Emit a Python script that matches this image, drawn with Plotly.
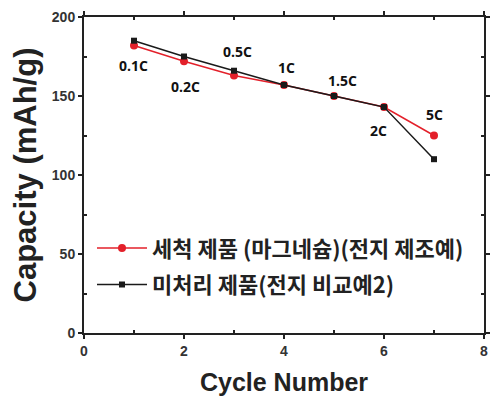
import plotly.graph_objects as go

cycles = [1, 2, 3, 4, 5, 6, 7]
washed = [182, 172, 163, 157, 150, 143, 125]
untreated = [185, 175, 166, 157, 150, 143, 110]
rate_labels = ["0.1C", "0.2C", "0.5C", "1C", "1.5C", "2C", "5C"]
label_x = [0.98, 2.02, 3.07, 4.05, 5.17, 5.89, 7.0]
label_y = [169, 156, 178, 168, 160, 128, 138]

fig = go.Figure()
fig.add_trace(go.Scatter(
    x=cycles, y=washed, mode="lines+markers",
    name="세척 제품 (마그네슘)(전지 제조예)", legendgroup="a",
    line=dict(color="#e3202a", width=1.5),
    marker=dict(symbol="circle", size=8, color="#e3202a"),
))
fig.add_trace(go.Scatter(
    x=cycles, y=untreated, mode="lines+markers",
    name="미처리 제품(전지 비교예2)", legendgroup="b",
    line=dict(color="#1a1a1a", width=1.5),
    marker=dict(symbol="square", size=6, color="#1a1a1a"),
))

for t, xx, yy in zip(rate_labels, label_x, label_y):
    fig.add_annotation(x=xx, y=yy, text="<b>" + t + "</b>", showarrow=False,
                       font=dict(family="Open Sans", size=14, color="#111"),
                       xanchor="center", yanchor="middle")

axis_common = dict(
    showline=True, linecolor="#222", linewidth=2, mirror="ticks",
    ticks="outside", ticklen=4, tickwidth=1.5, tickcolor="#222",
    showgrid=False, zeroline=False, automargin=False,
    tickfont=dict(family="Liberation Sans", size=14, color="#333", weight="bold"),
)
fig.update_xaxes(range=[0, 8], tickvals=[0, 2, 4, 6, 8],
                 minor=dict(tickvals=[1, 3, 5, 7], ticks="inside", ticklen=3, tickcolor="#222"),
                 title=dict(text="<b>Cycle Number</b>", standoff=16,
                            font=dict(family="Liberation Sans", size=25, color="#222")),
                 **axis_common)
fig.update_yaxes(range=[0, 200], tickvals=[0, 50, 100, 150, 200],
                 minor=dict(tickvals=[25, 75, 125, 175], ticks="inside", ticklen=3, tickcolor="#222"),
                 title=dict(text="<b>Capacity (mAh/g)</b>", standoff=13,
                            font=dict(family="Liberation Sans", size=31, color="#222")),
                 **axis_common)

fig.update_layout(
    width=490, height=391,
    margin=dict(l=76, r=14, t=9, b=66),
    plot_bgcolor="white", paper_bgcolor="white",
    legend=dict(x=0.02, y=0.335, xanchor="left", yanchor="top",
                bgcolor="rgba(0,0,0,0)", tracegroupgap=5,
                font=dict(family="Noto Sans CJK KR", size=22, color="#222", weight=600),
                itemwidth=50),
    showlegend=True,
)
fig.write_html("out.html")
